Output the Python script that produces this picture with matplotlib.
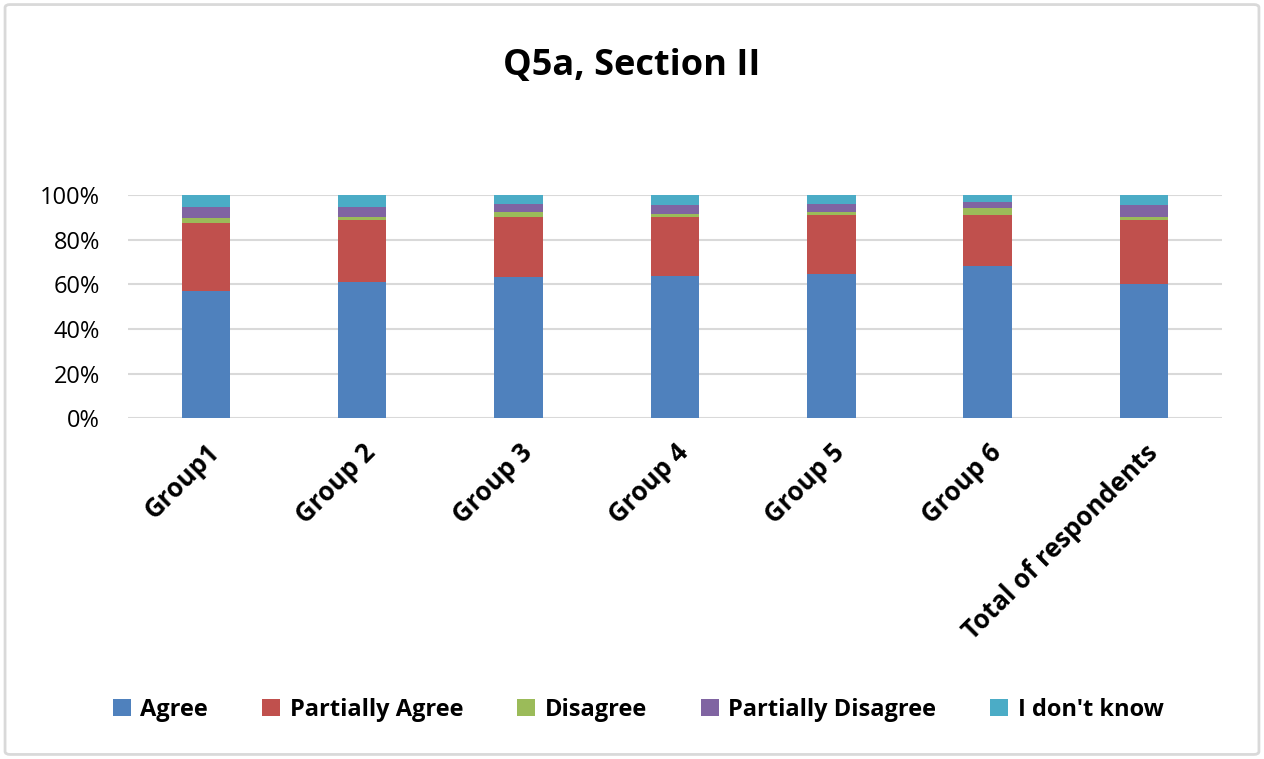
import numpy as np
import matplotlib.pyplot as plt
from matplotlib.patches import FancyBboxPatch

plt.rcParams['font.family'] = ['Open Sans', 'DejaVu Sans']

# data (percent)
groups = ["Group1", "Group 2", "Group 3", "Group 4", "Group 5", "Group 6", "Total of respondents"]
agree = [57.0, 60.9, 63.1, 63.9, 64.6, 68.4, 60.0]
partially_agree = [30.3, 27.9, 27.1, 26.4, 26.4, 22.6, 28.8]
disagree = [2.2, 1.5, 2.2, 1.3, 1.3, 3.0, 1.5]
partially_disagree = [5.2, 4.5, 3.7, 3.9, 3.9, 3.0, 5.2]
dont_know = [5.3, 5.2, 3.9, 4.5, 3.8, 3.0, 4.5]

series = [
    ("Agree", agree, "#4F81BD"),
    ("Partially Agree", partially_agree, "#C0504D"),
    ("Disagree", disagree, "#9BBB59"),
    ("Partially Disagree", partially_disagree, "#8064A2"),
    ("I don't know", dont_know, "#4BACC6"),
]

fig = plt.figure(figsize=(12.64, 7.59), dpi=100)
ax = fig.add_axes([0.101, 0.449, 0.866, 0.294])

x = np.arange(len(groups))
bottom = np.zeros(len(groups))
for name, vals, col in series:
    vals = np.array(vals)
    ax.bar(x, vals, bottom=bottom, width=0.31, color=col, label=name, zorder=3)
    bottom += vals

ax.set_xlim(-0.5, len(groups) - 0.5)
ax.set_ylim(0, 100)
ax.set_yticks(np.arange(0, 101, 20))
ax.set_yticklabels([f"{v}%" for v in range(0, 101, 20)], fontsize=17)
ax.set_xticks(x)
ax.set_xticklabels(groups, rotation=45, ha='right', rotation_mode='anchor',
                   fontsize=18.5, fontweight='bold')
ax.tick_params(axis='x', length=0, pad=15)
ax.tick_params(axis='y', length=0, pad=20)
ax.grid(axis='y', color='#d9d9d9', linewidth=1.5, zorder=0)
for s in ax.spines.values():
    s.set_visible(False)

fig.suptitle("Q5a, Section II", fontsize=26, fontweight='bold', y=0.937)

fig.legend(loc='center', bbox_to_anchor=(0.505, 0.065), ncol=5, frameon=False,
           prop={'size': 17, 'weight': 'bold'}, handlelength=0.75, handleheight=0.75,
           handletextpad=0.4, columnspacing=2.3)

# light border round the chart
fig.patches.append(FancyBboxPatch((0.004, 0.006), 0.992, 0.988,
                                  boxstyle="round,pad=0,rounding_size=0.004",
                                  transform=fig.transFigure, fill=False,
                                  edgecolor='#d9d9d9', linewidth=2))

fig.savefig("out.png", dpi=100)
